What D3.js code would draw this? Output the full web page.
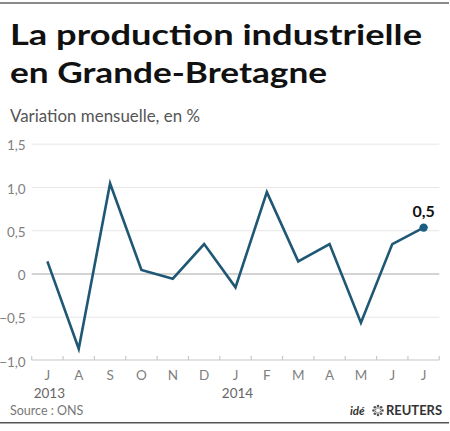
<!DOCTYPE html>
<html><head><meta charset="utf-8">
<script src="https://cdn.jsdelivr.net/npm/d3@7"></script>
<style>body{margin:0;background:#fff}svg{display:block}</style>
</head><body><svg id="c" width="450" height="431"></svg>
<script>
const months = ["J","A","S","O","N","D","J","F","M","A","M","J","J"];
const values = [0.14,-0.87,1.04,0.04,-0.06,0.34,-0.16,0.94,0.14,0.34,-0.57,0.34,0.53];
const yTicks = [-1.0,-0.5,0,0.5,1.0,1.5];
const yearLabels = [{label:"2013", index:0},{label:"2014", index:6}];
const lastLabel = "0,5";

const svg = d3.select("#c");
const font = "Lato, 'Open Sans', sans-serif";
const left = 31.7, right = 439.3, yTop = 143.7, yBot = 360;

const x = d3.scaleBand().domain(d3.range(months.length)).range([left, right]);
const y = d3.scaleLinear().domain([-1, 1.5]).range([yBot, yTop]);

// top rule
svg.append("rect").attr("x",0).attr("y",2).attr("width",449).attr("height",2).attr("fill","#8a8a8a");
// bottom rule
svg.append("rect").attr("x",0).attr("y",422).attr("width",449).attr("height",1.5).attr("fill","#555");

// Title
const t1 = svg.append("text").attr("x",10).attr("y",45).attr("font-family",font).attr("font-weight","bold")
  .attr("font-size",29).attr("fill","#111").text("La production industrielle");
const t2 = svg.append("text").attr("x",10).attr("y",83).attr("font-family",font).attr("font-weight","bold")
  .attr("font-size",29).attr("fill","#111").text("en Grande-Bretagne");
[[t1,412],[t2,317]].forEach(([t,w])=>{ t.attr("textLength",w).attr("lengthAdjust","spacingAndGlyphs"); });
svg.append("text").attr("x",10).attr("y",121.5).attr("font-family",font).attr("font-size",16.5)
  .attr("fill","#555").attr("textLength",190).attr("lengthAdjust","spacingAndGlyphs").text("Variation mensuelle, en %");

// gridlines
const fmt = v => v===0 ? "0" : d3.format(".1f")(v).replace(".",",");
const yAxis = d3.axisLeft(y).tickValues(yTicks).tickSize(-(right-left)).tickFormat(fmt);
const ga = svg.append("g").attr("transform",`translate(${left},0)`).call(yAxis);
ga.select(".domain").remove();
ga.selectAll(".tick line").attr("stroke", d => d===0 ? "#c4c4c4" : "#e6e6e6").attr("stroke-width",d=>d===0?1.5:1);
ga.selectAll(".tick line").filter(d=>d===-1).remove();
ga.selectAll(".tick text").attr("x",-6).attr("dy","0.45em").attr("font-family",font).attr("font-size",13.5).attr("fill","#808080");

// bottom axis with upward ticks
const gx = svg.append("g").attr("transform",`translate(0,${yBot})`);
gx.append("line").attr("x1",left).attr("x2",right).attr("stroke","#d8d8d8").attr("stroke-width",1.5);
const tickPos = d3.range(months.length+1).map(i => left + i*x.step());
gx.selectAll("line.tk").data(tickPos).join("line").attr("class","tk")
  .attr("x1",d=>d).attr("x2",d=>d).attr("y1",0).attr("y2",-4).attr("stroke","#c8c8c8").attr("stroke-width",1.2);
gx.selectAll("text.m").data(months).join("text").attr("class","m")
  .attr("x",(d,i)=>x(i)+x.bandwidth()/2).attr("y",20).attr("text-anchor","middle")
  .attr("font-family",font).attr("font-size",13.5).attr("fill","#808080").text(d=>d);
svg.selectAll("text.yr").data(yearLabels).join("text").attr("class","yr")
  .attr("x",d=>x(d.index)+x.bandwidth()/2+2).attr("y",397.5).attr("text-anchor","middle")
  .attr("font-family",font).attr("font-size",13.5).attr("fill","#666").text(d=>d.label);

// line
const cx = i => x(i)+x.bandwidth()/2;
const line = d3.line().x((d,i)=>cx(i)).y(d=>y(d));
svg.append("path").datum(values).attr("d",line).attr("fill","none").attr("stroke","#1e5874")
  .attr("stroke-width",2.6).attr("stroke-linejoin","miter");
const li = values.length-1;
svg.append("circle").attr("cx",cx(li)).attr("cy",y(values[li])).attr("r",4.2).attr("fill","#1a5e84");
svg.append("text").attr("x",cx(li)).attr("y",y(values[li])-11).attr("text-anchor","middle")
  .attr("font-family",font).attr("font-weight","bold").attr("font-size",16).attr("fill","#111").text(lastLabel);

// source
svg.append("text").attr("x",10).attr("y",415).attr("font-family",font).attr("font-size",12.5).attr("fill","#777").text("Source : ONS");
// Reuters credit
const cr = svg.append("g");
cr.append("text").attr("x",350).attr("y",415).attr("font-family",font).attr("font-weight","bold").attr("font-style","italic")
  .attr("font-size",11.5).attr("fill","#333").text("idé");
const lg = cr.append("g").attr("transform","translate(378,410.5)");
d3.range(8).forEach(k=>{
  const a = k*Math.PI/4;
  lg.append("circle").attr("cx",Math.cos(a)*4.5).attr("cy",Math.sin(a)*4.5).attr("r",1.3).attr("fill","#555");
  lg.append("circle").attr("cx",Math.cos(a+0.4)*2.6).attr("cy",Math.sin(a+0.4)*2.6).attr("r",0.8).attr("fill","#777");
});
cr.append("text").attr("x",386).attr("y",415).attr("font-family",font).attr("font-weight","bold")
  .attr("font-size",12.5).attr("fill","#333").attr("textLength",56).attr("lengthAdjust","spacingAndGlyphs").text("REUTERS");
</script></body></html>
